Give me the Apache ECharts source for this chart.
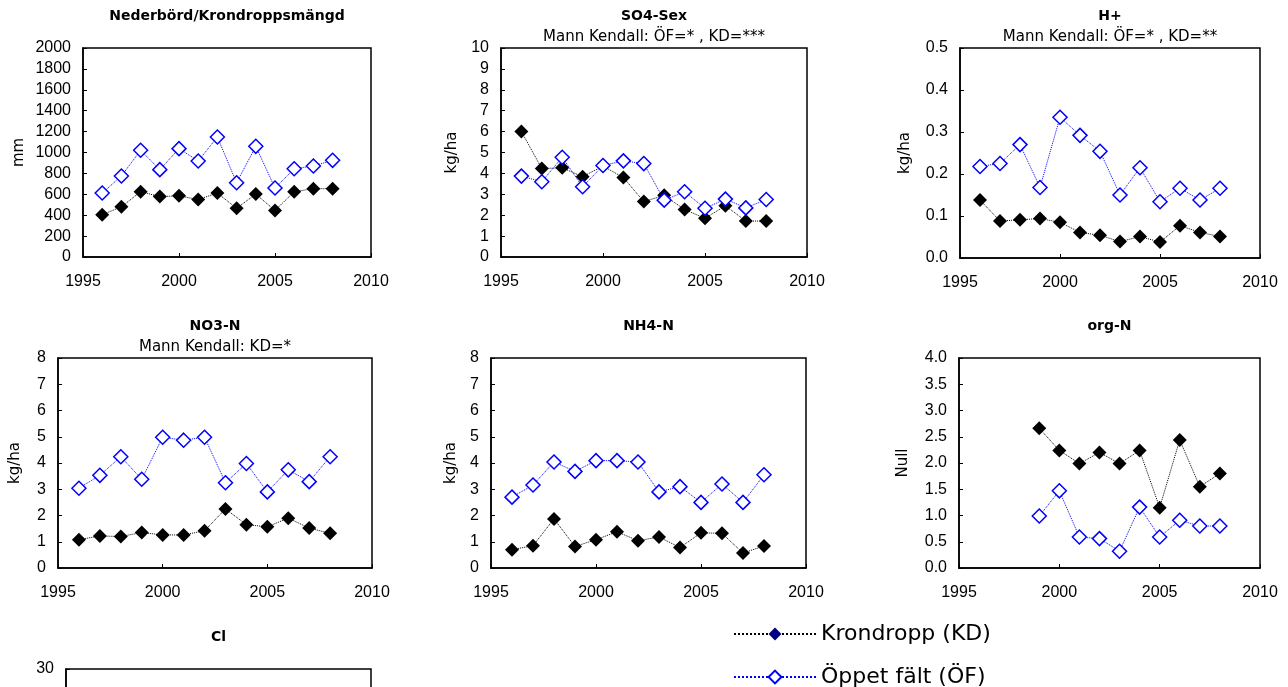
<!DOCTYPE html>
<html>
<head>
<meta charset="utf-8">
<script src="https://cdn.jsdelivr.net/npm/echarts@6.0.0/dist/echarts.min.js"></script>
<style>
html, body { margin: 0; padding: 0; background: #fff; }
#main { width: 1288px; height: 687px; }
</style>
</head>
<body>
<div id="main"></div>
<script>
// år
var years = [1996, 1997, 1998, 1999, 2000, 2001, 2002, 2003, 2004, 2005, 2006, 2007, 2008];

// Nederbörd/Krondroppsmängd (mm)
var nedKD = [405, 480, 625, 578, 585, 550, 612, 466, 602, 445, 625, 654, 654];
var nedOF = [612, 775, 1021, 836, 1037, 919, 1148, 711, 1059, 660, 845, 871, 925];

// SO4-Sex (kg/ha)
var so4KD = [6.0, 4.23, 4.27, 3.84, 4.35, 3.8, 2.65, 2.95, 2.27, 1.85, 2.45, 1.72, 1.72];
var so4OF = [3.87, 3.6, 4.77, 3.36, 4.38, 4.6, 4.47, 2.72, 3.12, 2.33, 2.77, 2.35, 2.75];

// H+ (kg/ha)
var hKD = [0.138, 0.088, 0.091, 0.094, 0.085, 0.061, 0.054, 0.039, 0.051, 0.038, 0.077, 0.061, 0.051];
var hOF = [0.218, 0.225, 0.270, 0.168, 0.335, 0.292, 0.254, 0.150, 0.215, 0.134, 0.166, 0.138, 0.166];

// NO3-N (kg/ha)
var no3KD = [1.08, 1.22, 1.2, 1.35, 1.26, 1.26, 1.42, 2.25, 1.65, 1.57, 1.9, 1.52, 1.32];
var no3OF = [3.04, 3.53, 4.24, 3.38, 4.98, 4.87, 4.98, 3.25, 3.98, 2.9, 3.74, 3.29, 4.24];

// NH4-N (kg/ha)
var nh4KD = [0.7, 0.85, 1.87, 0.82, 1.08, 1.38, 1.04, 1.18, 0.78, 1.34, 1.32, 0.57, 0.84];
var nh4OF = [2.7, 3.16, 4.04, 3.68, 4.09, 4.09, 4.04, 2.9, 3.1, 2.5, 3.2, 2.5, 3.55];

// org-N (saknas 1996-1998)
var orgKD = [null, null, null, 2.66, 2.24, 1.99, 2.2, 1.99, 2.24, 1.15, 2.44, 1.55, 1.8];
var orgOF = [null, null, null, 0.99, 1.47, 0.59, 0.56, 0.32, 1.16, 0.59, 0.91, 0.8, 0.8];

var nameKD = 'Krondropp (KD)';
var nameOF = 'Öppet fält (ÖF)';

var panels = [
    {title: 'Nederbörd/Krondroppsmängd', sub: '', unit: 'mm', gap: 56, max: 2000, step: 200, dec: 0,
     left: 83, top: 48, width: 288, height: 209, kd: nedKD, of: nedOF},
    {title: 'SO4-Sex', sub: 'Mann Kendall: ÖF=* , KD=***', unit: 'kg/ha', gap: 41, max: 10, step: 1, dec: 0,
     left: 501, top: 48, width: 306, height: 209, kd: so4KD, of: so4OF},
    {title: 'H+', sub: 'Mann Kendall: ÖF=* , KD=**', unit: 'kg/ha', gap: 47, max: 0.5, step: 0.1, dec: 1,
     left: 960, top: 48, width: 300, height: 210, kd: hKD, of: hOF},
    {title: 'NO3-N', sub: 'Mann Kendall: KD=*', unit: 'kg/ha', gap: 35, max: 8, step: 1, dec: 0,
     left: 58, top: 358, width: 314, height: 210, kd: no3KD, of: no3OF},
    {title: 'NH4-N', sub: '', unit: 'kg/ha', gap: 32, max: 8, step: 1, dec: 0,
     left: 491, top: 358, width: 315, height: 210, kd: nh4KD, of: nh4OF},
    {title: 'org-N', sub: '', unit: 'Null', gap: 48, max: 4, step: 0.5, dec: 1,
     left: 959, top: 358, width: 301, height: 210, kd: orgKD, of: orgOF},
    {title: 'Cl', sub: '', unit: '', gap: 40, max: 30, step: 5, dec: 0,
     left: 66, top: 669, width: 305, height: 210, kd: null, of: null}
];

function pairs(arr) {
    var out = [];
    for (var i = 0; i < years.length; i++) {
        if (arr[i] != null) out.push([years[i], arr[i]]);
    }
    return out;
}

var tickFont = "Liberation Sans";
var textFont = "DejaVu Sans";

var grids = [], xAxes = [], yAxes = [], series = [], titles = [];
for (var p = 0; p < panels.length; p++) {
    var c = panels[p];
    grids.push({left: c.left, top: c.top, width: c.width, height: c.height,
        outerBoundsMode: 'none', containLabel: false,
        show: true, borderColor: '#000', borderWidth: 1.5, backgroundColor: '#fff'});
    xAxes.push({
        type: 'value', gridIndex: p, min: 1995, max: 2010, interval: 5,
        axisLine: {show: true, onZero: false, lineStyle: {color: '#000', width: 1.5}},
        axisTick: {show: true, inside: true, length: 4, lineStyle: {color: '#000'}},
        axisLabel: {color: '#000', fontSize: 16, fontFamily: tickFont, margin: 17,
            formatter: function (v) { return String(v); }},
        splitLine: {show: false}
    });
    (function (dec) {
        yAxes.push({
            type: 'value', gridIndex: p, min: 0, max: c.max, interval: c.step,
            name: c.unit, nameLocation: 'middle', nameGap: c.gap,
            nameTextStyle: {color: '#000', fontSize: 15, fontFamily: textFont},
            axisLine: {show: true, lineStyle: {color: '#000', width: 1.5}},
            axisTick: {show: true, inside: true, length: 4, lineStyle: {color: '#000'}},
            axisLabel: {color: '#000', fontSize: 16, fontFamily: tickFont, margin: 12,
                formatter: function (v) { return v.toFixed(dec); }},
            splitLine: {show: false}
        });
    })(c.dec);
    var cx = c.left + c.width / 2;
    titles.push({text: c.title, left: cx, top: c.top - 39, textAlign: 'center', padding: 0,
        textStyle: {fontSize: 14, fontWeight: 'bold', color: '#000', fontFamily: textFont}});
    if (c.sub) {
        titles.push({text: c.sub, left: cx, top: c.top - 18, textAlign: 'center', padding: 0,
            textStyle: {fontSize: 15, fontWeight: 'normal', color: '#000', fontFamily: textFont}});
    }
    if (c.kd) {
        series.push({
            name: nameKD, type: 'line', xAxisIndex: p, yAxisIndex: p,
            data: pairs(c.kd), symbol: 'diamond', symbolSize: 14,
            itemStyle: {color: '#000', borderColor: '#000', borderWidth: 0},
            lineStyle: {color: '#000', width: 1, type: 'dotted'},
            animation: false, z: 2
        });
        series.push({
            name: nameOF, type: 'line', xAxisIndex: p, yAxisIndex: p,
            data: pairs(c.of), symbol: 'diamond', symbolSize: 14, showAllSymbol: true,
            itemStyle: {color: '#fff', borderColor: '#0000ff', borderWidth: 1.5},
            lineStyle: {color: '#0000ff', width: 1, type: 'dotted'},
            animation: false, z: 3
        });
    }
}

var myChart = echarts.init(document.getElementById('main'));
var option = {
    backgroundColor: '#fff',
    animation: false,
    title: titles,
    legend: {
        orient: 'vertical', left: 733, top: 623, padding: 0,
        width: 320, height: 100,
        itemWidth: 82, itemHeight: 16, itemGap: 21,
        textStyle: {fontSize: 22, color: '#000', fontFamily: textFont},
        data: [
            {name: nameKD, itemStyle: {color: '#000080', borderColor: '#000080'}},
            {name: nameOF}
        ]
    },
    grid: grids,
    xAxis: xAxes,
    yAxis: yAxes,
    series: series
};
myChart.setOption(option);
</script>
</body>
</html>
